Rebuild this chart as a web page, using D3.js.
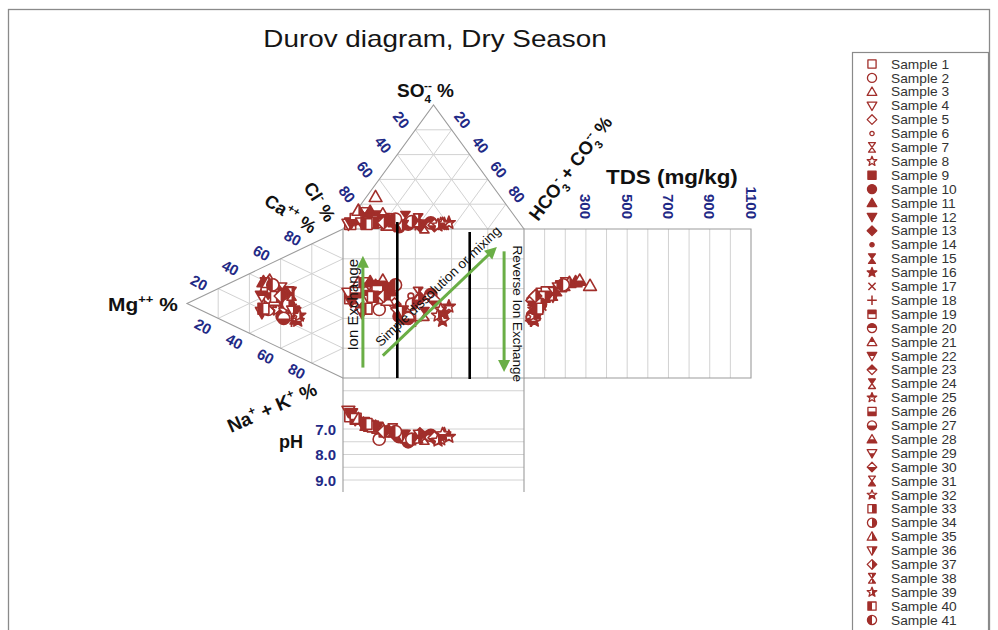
<!DOCTYPE html>
<html>
<head>
<meta charset="utf-8">
<title>Durov diagram, Dry Season</title>
<script src="https://cdn.jsdelivr.net/npm/d3@7/dist/d3.min.js"></script>
<style>
  html, body { margin: 0; padding: 0; background: #fff; }
  svg { display: block; }
  text { font-family: "Liberation Sans", Arial, Helvetica, sans-serif; }
</style>
</head>
<body>
<svg id="chart" width="998" height="630"></svg>
<script>
// ---------------- sample data (meq %, TDS in mg/kg, pH) ----------------
const sampleNames = d3.range(1, 42).map(i => "Sample " + i);

// cations, % of total
const ca  = [30,22,40,33,31,38,38,25,40,22,39,30,36,36,25,25,25,22,37,36,30,29,28,28,31,35,21,42,18,33,40,24,33,32,40,29,35,40,28,21,40];
const mg  = [47,48,44,48,37,34,50,42,35,39,51,43,35,48,31,37,47,33,49,40,44,52,37,30,34,45,38,47,52,38,39,29,43,35,48,32,40,33,28,51,45];
const naK = [23,30,16,19,32,28,12,33,25,39,10,27,29,16,44,38,28,45,14,24,26,19,35,42,35,20,41,11,30,29,21,47,24,33,12,39,25,27,44,28,15];

// anions, % of total
const hco3 = [2,17,5,1,27,35,6,52,19,30,8,2,41,22,30,54,6,38,14,46,23,9,27,44,56,3,34,16,8,49,24,53,14,35,1,31,20,38,51,11,25];
const so4  = [4,6,26,4,3,5,12,4,8,2,14,5,3,7,9,4,6,4,10,5,3,9,6,2,5,8,4,12,5,3,7,4,5,6,15,3,5,7,3,4,8];
const cl   = [94,77,69,95,70,60,82,44,73,68,78,93,56,71,61,42,88,58,76,49,74,82,67,54,39,89,62,72,87,48,69,43,81,59,84,66,75,55,46,85,67];

const tds = [80,60,320,90,70,110,200,50,130,40,250,75,45,150,45,60,85,35,180,120,50,140,65,55,75,110,40,270,70,40,160,50,100,80,220,60,55,140,45,65,190];
const ph  = [6.5,7.4,6.9,6.3,7.2,7.3,6.8,7.4,7.1,7.3,6.9,6.4,7.2,7.0,7.3,7.2,6.7,7.4,6.95,7.25,7.1,6.85,7.15,7.35,7.3,6.6,7.5,7.0,6.75,7.35,7.05,7.2,6.9,7.4,6.6,7.25,7.1,7.3,7.45,6.8,7.1];

// axis ticks and grid values
const pctTicks = [20, 40, 60, 80];
const tdsTicks = [300, 500, 700, 900, 1100];
const tdsGrid  = [100, 200, 300, 400, 500, 600, 700, 800, 900, 1000];
const phTicks  = [7.0, 8.0, 9.0];
const phGrid   = [5.5, 7.0, 7.5, 8.0, 8.5, 9.0];

// ---------------- styles ----------------
const RED = "#a12e2a", BLUE = "#1f2a86", GREEN = "#6aae46";
const EDGE = "#9c9c9c", GRID = "#d2d2d2";

const shapes8 = ["square","circle","triUp","triDown","diamond","dot","hourglass","star"];
const shapes7 = ["square","circle","triUp","triDown","diamond","hourglass","star"];
const symbolSpec = [
  ...shapes8.map(s => ({ shape: s, fill: "none" })),
  ...shapes8.map(s => ({ shape: s, fill: "full" })),
  { shape: "cross", fill: "none" }, { shape: "plus", fill: "none" },
  ...shapes7.map(s => ({ shape: s, fill: "top" })),
  ...shapes7.map(s => ({ shape: s, fill: "bottom" })),
  ...shapes7.map(s => ({ shape: s, fill: "right" })),
  { shape: "square", fill: "left" }, { shape: "circle", fill: "left" }
];

// ---------------- scales / geometry ----------------
const svg = d3.select("#chart");
const sq = { x0: 343, x1: 524, y0: 229, y1: 378 };
const xSq  = d3.scaleLinear().domain([0, 100]).range([sq.x0, sq.x1]);   // anion position across the square
const ySq  = d3.scaleLinear().domain([0, 100]).range([sq.y0, sq.y1]);   // cation position down the square
const so4Y = d3.scaleLinear().domain([0, 100]).range([sq.y0, 105]);     // height in anion triangle
const mgX  = d3.scaleLinear().domain([0, 100]).range([sq.x0, 187]);     // depth in cation triangle
const tdsX = d3.scaleLinear().domain([0, 1100]).range([sq.x1, 751]);
const phY  = d3.scaleLinear().domain([7, 9]).range([429, 480]);
const phBottom = 492;

const anionPt  = (h, s) => [xSq(h + s / 2), so4Y(s)];
const cationPt = (m, n) => [mgX(m), ySq(n + m / 2)];

// ---------------- frame & title ----------------
svg.append("rect").attr("x", 8.5).attr("y", 9.5).attr("width", 981).attr("height", 640)
  .attr("fill", "#fff").attr("stroke", "#8a8a8a").attr("stroke-width", 1.3);

svg.append("text").attr("transform", "translate(435,47) scale(1.16,1)")
  .attr("text-anchor", "middle").attr("font-size", 24).attr("fill", "#151515")
  .text("Durov diagram, Dry Season");

const defs = svg.append("defs");
[["top", -20, -20, 40, 20], ["bottom", -20, 0, 40, 20], ["left", -20, -20, 20, 40], ["right", 0, -20, 20, 40]]
  .forEach(([id, x, y, w, h]) => defs.append("clipPath").attr("id", "half-" + id)
    .append("rect").attr("x", x).attr("y", y).attr("width", w).attr("height", h));

// ---------------- grids ----------------
const gridG = svg.append("g").attr("fill", "none");
function seg(a, b, color, w) {
  gridG.append("line").attr("x1", a[0]).attr("y1", a[1]).attr("x2", b[0]).attr("y2", b[1])
    .attr("stroke", color).attr("stroke-width", w || 1);
}
pctTicks.forEach(k => {
  // anion triangle
  seg(anionPt(0, k), anionPt(100 - k, k), GRID);
  seg(anionPt(0, 100 - k), anionPt(100 - k, 0), GRID);
  seg(anionPt(k, 0), anionPt(k, 100 - k), GRID);
  // cation triangle
  seg(cationPt(k, 0), cationPt(k, 100 - k), GRID);
  seg(cationPt(0, k), cationPt(100 - k, k), GRID);
  seg(cationPt(100 - k, 0), cationPt(0, 100 - k), GRID);
  // square
  seg([xSq(k), sq.y0], [xSq(k), sq.y1], GRID);
  seg([sq.x0, ySq(k)], [sq.x1, ySq(k)], GRID);
});
tdsGrid.forEach(v => seg([tdsX(v), sq.y0], [tdsX(v), sq.y1], GRID));
phGrid.forEach(v => seg([sq.x0, phY(v)], [sq.x1, phY(v)], GRID));

// outlines
const outline = pts => gridG.append("path").attr("d", d3.line()(pts)).attr("stroke", EDGE).attr("stroke-width", 1.1);
outline([anionPt(0, 0), anionPt(0, 100), anionPt(100, 0)]);
outline([cationPt(0, 0), cationPt(100, 0), cationPt(0, 100)]);
outline([[sq.x0, sq.y0], [sq.x1, sq.y0], [sq.x1, sq.y1], [sq.x0, sq.y1], [sq.x0, sq.y0]]);
outline([[sq.x1, sq.y0], [tdsX(1100), sq.y0], [tdsX(1100), sq.y1], [sq.x1, sq.y1]]);
outline([[sq.x0, sq.y1], [sq.x0, phBottom]]);
outline([[sq.x1, sq.y1], [sq.x1, phBottom]]);

// ---------------- tick labels ----------------
const tickG = svg.append("g").attr("fill", BLUE).attr("font-weight", "bold").attr("font-size", 15)
  .attr("text-anchor", "middle").attr("dominant-baseline", "central");
function rotLabel(p, dx, dy, angle, txt) {
  tickG.append("text").attr("transform", `translate(${p[0] + dx},${p[1] + dy}) rotate(${angle})`).text(txt);
}
pctTicks.forEach(k => {
  rotLabel(anionPt(0, 100 - k), -14, -10, 52, k);
  rotLabel(anionPt(k, 100 - k), 11, -10, 52, k);
  rotLabel(cationPt(100 - k, 0), -19, -6, 28, k);
  rotLabel(cationPt(100 - k, k), -15, 8, 28, k);
});
tdsTicks.forEach(v => {
  tickG.append("text").attr("transform", `translate(${tdsX(v)},219) rotate(90)`)
    .attr("text-anchor", "end").text(v);
});
phTicks.forEach(v => {
  tickG.append("text").attr("x", 336).attr("y", phY(v)).attr("font-size", 15)
    .attr("text-anchor", "end").text(v.toFixed(1));
});

// ---------------- axis titles ----------------
const titleG = svg.append("g").attr("font-weight", "bold").attr("fill", "#111");
function richText(transform, parts, size) {
  const t = titleG.append("text").attr("transform", transform).attr("font-size", size);
  let cur = 0;
  parts.forEach(p => {
    const part = typeof p === "string" ? { t: p } : p;
    const target = part.sub ? size * 0.32 : part.sup ? -size * 0.42 : 0;
    t.append("tspan").attr("dy", target - cur).attr("dx", part.dx || 0)
      .attr("font-size", (part.sub || part.sup) ? size * 0.62 : size).text(part.t);
    cur = target;
  });
  return t;
}
richText("translate(397,97)", ["SO", { t: "4", sub: true }, { t: "--", sup: true, dx: -7 }, " %"], 19);
richText("translate(108,311) scale(1.1,1)", ["Mg", { t: "++", sup: true }, " %"], 19);
richText("translate(606,184) scale(1.12,1)", ["TDS (mg/kg)"], 20);
titleG.append("text").attr("x", 303).attr("y", 448).attr("font-size", 18).attr("text-anchor", "end").text("pH");
richText("translate(263,204) rotate(32)", ["Ca", { t: "++", sup: true }, " %"], 18);
richText("translate(303,187) rotate(58)", ["Cl", { t: "-", sup: true }, " %"], 18);
richText("translate(538,222) rotate(-53)",
  ["HCO", { t: "3", sub: true }, { t: "-", sup: true, dx: -5 }, " + CO", { t: "3", sub: true }, { t: "--", sup: true, dx: -6 }, " %"], 18.5);
richText("translate(231,433) rotate(-24)",
  ["Na", { t: "+", sup: true }, " + K", { t: "+", sup: true }, " %"], 19);

// ---------------- markers ----------------
function shapePath(shape, r) {
  const c = q => `M${q},0A${q},${q} 0 1,1 ${-q},0A${q},${q} 0 1,1 ${q},0Z`;
  switch (shape) {
    case "square": { const q = r * 0.85; return `M${-q},${-q}H${q}V${q}H${-q}Z`; }
    case "circle": return c(r * 0.95);
    case "dot": return c(r * 0.45);
    case "triUp": return `M0,${-r}L${r},${r * 0.75}L${-r},${r * 0.75}Z`;
    case "triDown": return `M0,${r}L${r},${-r * 0.75}L${-r},${-r * 0.75}Z`;
    case "diamond": return `M0,${-r}L${r},0L0,${r}L${-r},0Z`;
    case "hourglass": { const q = r * 0.72; return `M${-q},${-r}H${q}L${-q},${r}H${q}Z`; }
    case "star": {
      const pts = d3.range(10).map(i => {
        const a = -Math.PI / 2 + i * Math.PI / 5, rr = i % 2 ? r * 0.45 : r * 1.05;
        return [rr * Math.cos(a), rr * Math.sin(a)];
      });
      return d3.line()(pts) + "Z";
    }
    case "cross": { const q = r * 0.75; return `M${-q},${-q}L${q},${q}M${q},${-q}L${-q},${q}`; }
    case "plus": return `M${-r},0H${r}M0,${-r}V${r}`;
  }
}
function drawMarker(g, spec, r, sw) {
  const d = shapePath(spec.shape, r);
  if (spec.shape === "cross" || spec.shape === "plus") {
    g.append("path").attr("d", d).attr("fill", "none").attr("stroke", RED).attr("stroke-width", sw + 0.2);
    return;
  }
  g.append("path").attr("d", d).attr("fill", spec.fill === "full" ? RED : "#fff");
  if (["top", "bottom", "left", "right"].includes(spec.fill))
    g.append("path").attr("d", d).attr("fill", RED).attr("clip-path", `url(#half-${spec.fill})`);
  g.append("path").attr("d", d).attr("fill", "none").attr("stroke", RED)
    .attr("stroke-width", sw).attr("stroke-linejoin", "round");
}

const samples = sampleNames.map((name, i) => ({
  name, spec: symbolSpec[i],
  anion: anionPt(hco3[i], so4[i]),
  cation: cationPt(mg[i], naK[i]),
  sqX: xSq(hco3[i] + so4[i] / 2),
  sqY: ySq(naK[i] + mg[i] / 2),
  tds: tds[i], ph: ph[i]
}));

const markG = svg.append("g");
const R = 6.4;
const place = (x, y, spec) => drawMarker(markG.append("g").attr("transform", `translate(${x},${y})`), spec, R, 1.6);
samples.forEach(s => place(s.cation[0], s.cation[1], s.spec));
samples.forEach(s => place(s.anion[0], s.anion[1], s.spec));
samples.forEach(s => place(s.sqX, s.sqY, s.spec));
samples.forEach(s => place(tdsX(s.tds), s.sqY, s.spec));
samples.forEach(s => place(s.sqX, phY(s.ph), s.spec));

// ---------------- process annotations ----------------
const annG = svg.append("g");
[30, 70].forEach((p, i) => {
  annG.append("line").attr("x1", xSq(p)).attr("x2", xSq(p))
    .attr("y1", i === 0 ? sq.y0 - 7 : sq.y0 + 3).attr("y2", sq.y1 + (i === 0 ? 0 : 1))
    .attr("stroke", "#000").attr("stroke-width", 2.6);
});
function arrow(a, b) {
  const dx = b[0] - a[0], dy = b[1] - a[1], L = Math.hypot(dx, dy);
  const ux = dx / L, uy = dy / L, hl = 12, hw = 6;
  annG.append("line").attr("x1", a[0]).attr("y1", a[1])
    .attr("x2", b[0] - ux * hl * 0.8).attr("y2", b[1] - uy * hl * 0.8)
    .attr("stroke", GREEN).attr("stroke-width", 3);
  const bx = b[0] - ux * hl, by = b[1] - uy * hl;
  annG.append("path").attr("fill", GREEN)
    .attr("d", `M${b[0]},${b[1]}L${bx - uy * hw},${by + ux * hw}L${bx + uy * hw},${by - ux * hw}Z`);
}
const ieA = [xSq(11), ySq(93)], ieB = [xSq(11), ySq(18)];
const sdA = [xSq(22), ySq(85)], sdB = [xSq(85), ySq(12)];
const riA = [xSq(89), ySq(15)], riB = [xSq(89), ySq(96)];
arrow(ieA, ieB); arrow(sdA, sdB); arrow(riA, riB);

const noteG = svg.append("g").attr("font-family", "'Open Sans', 'Noto Sans', sans-serif")
  .attr("fill", "#111").attr("text-anchor", "middle").attr("dominant-baseline", "central");
noteG.append("text").attr("font-size", 15)
  .attr("transform", `translate(${ieA[0] - 10},${(ieA[1] + ieB[1]) / 2 - 7}) rotate(-90)`).text("Ion Exchange");
{
  const dx = sdB[0] - sdA[0], dy = sdB[1] - sdA[1], L = Math.hypot(dx, dy);
  const ux = dx / L, uy = dy / L, ang = Math.atan2(dy, dx) * 180 / Math.PI;
  const mx = (sdA[0] + sdB[0]) / 2 + ux * 9 + uy * 12, my = (sdA[1] + sdB[1]) / 2 + uy * 9 - ux * 12;
  noteG.append("text").attr("font-size", 13.5)
    .attr("transform", `translate(${mx},${my}) rotate(${ang})`).text("Simple dissolution or mixing");
}
noteG.append("text").attr("font-size", 13.5)
  .attr("transform", `translate(${riA[0] + 13},${(riA[1] + riB[1]) / 2 + 2}) rotate(90)`).text("Reverse Ion Exchange");

// ---------------- legend ----------------
const lg = svg.append("g");
lg.append("rect").attr("x", 852.5).attr("y", 52.5).attr("width", 136).attr("height", 600)
  .attr("fill", "#fff").attr("stroke", "#8a8a8a").attr("stroke-width", 1.2);
samples.forEach((s, i) => {
  const y = 64 + i * 13.9;
  drawMarker(lg.append("g").attr("transform", `translate(872,${y})`), s.spec, 4.8, 1.3);
  lg.append("text").attr("x", 891).attr("y", y).attr("dy", "0.36em")
    .attr("transform", `translate(${891 * -0.06},0) scale(1.06,1)`)
    .attr("font-size", 13).attr("fill", "#333").text(s.name);
});
</script>
</body>
</html>
